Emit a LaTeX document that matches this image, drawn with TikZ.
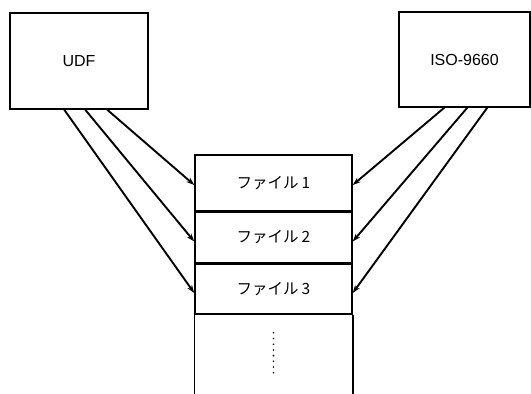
\documentclass[tikz,border=0pt]{standalone}
\usepackage{fontspec}
\setmainfont{Liberation Sans}
\newfontfamily\cjk{Noto Sans CJK JP}
\usetikzlibrary{arrows.meta,calc}
\begin{document}
\begin{tikzpicture}[x=1pt,y=-1pt,
  srcbox/.style={draw,line width=1.5pt,inner sep=0pt,font=\fontsize{16}{19}\selectfont},
  rowbox/.style={draw,line width=1.5pt,inner sep=0pt,minimum width=157pt,font=\cjk\fontsize{15.5}{18}\selectfont},
  link/.style={line width=1.9pt,-{Stealth[length=8pt,width=5.5pt]}}]
\useasboundingbox (0,0) rectangle (531,394);
\node[srcbox,minimum width=138pt,minimum height=96pt] (udf) at (79,61) {UDF};
\node[srcbox,minimum width=131pt,minimum height=95pt] (iso) at (464.5,59.5) {ISO-9660};
\node[rowbox,minimum height=56pt] (r1) at (273.5,183) {ファイル\hspace{3pt}1};
\node[rowbox,minimum height=50pt,anchor=north] (r2) at (r1.south) {ファイル\hspace{3pt}2};
\node[rowbox,minimum height=50pt,anchor=north] (r3) at (r2.south) {ファイル\hspace{3pt}3};
\coordinate (bl) at ($(r3.south west)+(0,90)$);
\coordinate (br) at ($(r3.south east)+(0,90)$);
\draw[line width=1.5pt] (r3.south west) -- (bl) (r3.south east) -- (br);
\node[minimum height=40pt,inner sep=0pt] (dots) at (273.5,353) {};
\draw[line width=1.8pt,line cap=round,dash pattern=on 0pt off 5.7pt] (dots.north) -- (dots.south);
\draw[link] ($(udf.south west)+(98,0)$) -- ($(r1.west)+(0,2)$);
\draw[link] ($(udf.south west)+(76,0)$) -- ($(r2.west)+(0,4)$);
\draw[link] ($(udf.south west)+(55,0)$) -- ($(r3.west)+(0,4)$);
\draw[link] ($(iso.south west)+(46,0)$) -- ($(r1.east)+(0,2)$);
\draw[link] ($(iso.south west)+(69,0)$) -- ($(r2.east)+(0,4)$);
\draw[link] ($(iso.south west)+(89,0)$) -- ($(r3.east)+(0,4)$);
\end{tikzpicture}
\end{document}
